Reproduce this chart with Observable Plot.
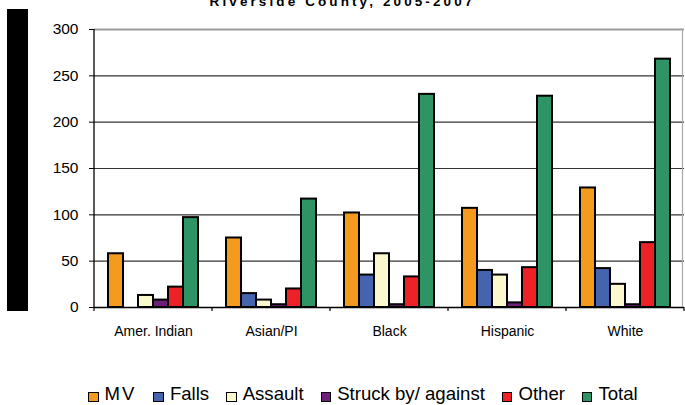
<!DOCTYPE html>
<html>
<head>
<meta charset="utf-8">
<script src="https://cdn.jsdelivr.net/npm/d3@7"></script>
<script src="https://cdn.jsdelivr.net/npm/@observablehq/plot@0.6"></script>
<style>
  html, body { margin: 0; padding: 0; background: #fff; }
  #wrap { position: relative; width: 685px; height: 405px; overflow: hidden; font-family: "Liberation Sans", Arial, sans-serif; }
  #title { position: absolute; left: 0; width: 685px; top: -6px; text-align: center; font-weight: bold; font-size: 13.5px; letter-spacing: 3.1px; line-height: 16px; color: #000; }
  #blk { position: absolute; left: 7px; top: 9px; width: 21px; height: 302px; background: #000; }
  #chart { position: absolute; left: 0; top: 0; }
  #legend { position: absolute; left: 88px; top: 384px; display: flex; gap: 17px; font-size: 18.6px; line-height: 20px; color: #000; white-space: nowrap; }
  #legend .item { display: flex; align-items: flex-end; gap: 6px; }
  #legend .sw { width: 8.5px; height: 8.5px; border: 1.6px solid #000; margin-bottom: 2px; }
</style>
</head>
<body>
<div id="wrap">
  <div id="chart"></div>
  <div id="blk"></div>
  <div id="title">Riverside County, 2005-2007</div>
  <div id="legend"></div>
</div>
<script>
const groups = ["Amer. Indian", "Asian/PI", "Black", "Hispanic", "White"];
const seriesNames = ["MV", "Falls", "Assault", "Struck by/ against", "Other", "Total"];
const colors = ["#F39A1F", "#4465AD", "#FBF8CD", "#6C2078", "#EC2226", "#2E9466"];
const mv = [58, 75, 102, 107, 129];
const falls = [0, 15, 35, 40, 42];
const assault = [13, 8, 58, 35, 25];
const struck = [8, 3, 3, 5, 3];
const other = [22, 20, 33, 43, 70];
const total = [97, 117, 230, 228, 268];
const yTicks = [0, 50, 100, 150, 200, 250, 300];
const gridTicks = [50, 100, 150, 200, 250];

const seriesValues = [mv, falls, assault, struck, other, total];
const data = [];
groups.forEach((g, gi) => {
  seriesNames.forEach((s, si) => {
    data.push({group: g, series: s, value: seriesValues[si][gi]});
  });
});

const chart = Plot.plot({
  width: 685,
  height: 345,
  marginTop: 29,
  marginBottom: 38,
  marginLeft: 93,
  marginRight: 0,
  style: {fontFamily: "'Liberation Sans', Arial, sans-serif", color: "#000", background: "transparent"},
  fx: {domain: groups, padding: 0, label: null},
  x: {domain: seriesNames, paddingInner: 0, paddingOuter: 0.82, axis: null},
  y: {domain: [0, 300], label: null},
  color: {domain: seriesNames, range: colors},
  marks: [
    Plot.ruleY(gridTicks, {stroke: "#333", strokeWidth: 1.1}),
    Plot.ruleY([300], {stroke: "#9a9a9a", strokeWidth: 2}),
    Plot.barY(data, {fx: "group", x: "series", y: "value", fill: "series", stroke: "#000", strokeWidth: 2}),
    Plot.ruleY([0], {stroke: "#000", strokeWidth: 1.3}),
    Plot.axisY(yTicks, {tickSize: 5, tickPadding: 11, fontSize: 15.5, stroke: "#000", fill: "#000", label: null}),
    Plot.axisFx({anchor: "bottom", tickSize: 0, tickPadding: 19, fontSize: 14, fill: "#000", label: null})
  ]
});
document.getElementById("chart").appendChild(chart);

// group boundary ticks, left axis line and right border, placed via the chart's own scales
const fx = chart.scale("fx");
const ys = chart.scale("y");
const y0 = ys.apply(0), y300 = ys.apply(300);
const svg = d3.select(chart);
const edges = groups.map(g => fx.apply(g)).concat([fx.apply(groups[groups.length - 1]) + fx.bandwidth]);
svg.append("g").selectAll("line").data(edges).join("line")
  .attr("x1", d => d).attr("x2", d => d)
  .attr("y1", y0).attr("y2", y0 + 4)
  .attr("stroke", "#000").attr("stroke-width", 1.2);
svg.append("line")
  .attr("x1", edges[0]).attr("x2", edges[0])
  .attr("y1", y300).attr("y2", y0)
  .attr("stroke", "#000").attr("stroke-width", 1.3);
svg.append("line")
  .attr("x1", edges[edges.length - 1] - 1.5).attr("x2", edges[edges.length - 1] - 1.5)
  .attr("y1", y300).attr("y2", y0)
  .attr("stroke", "#aaa").attr("stroke-width", 1.2);

// legend
const legend = document.getElementById("legend");
seriesNames.forEach((s, i) => {
  const item = document.createElement("div");
  item.className = "item";
  const sw = document.createElement("span");
  sw.className = "sw";
  sw.style.background = colors[i];
  const t = document.createElement("span");
  t.textContent = s;
  if (s === "MV") t.style.letterSpacing = "2px";
  item.appendChild(sw);
  item.appendChild(t);
  legend.appendChild(item);
});
</script>
</body>
</html>
